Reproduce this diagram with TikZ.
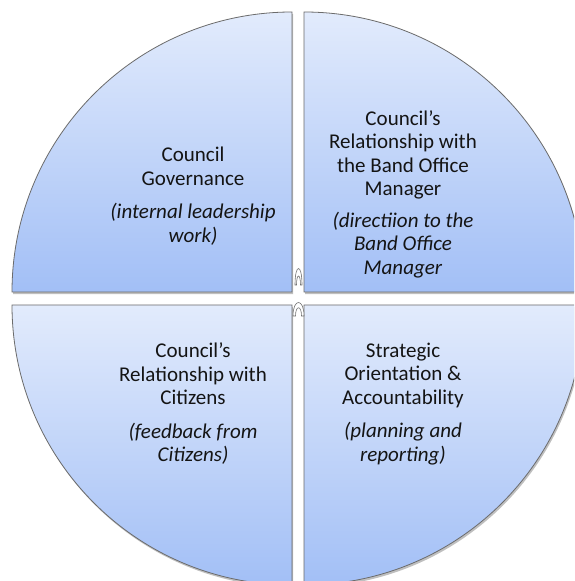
\documentclass[tikz,border=0pt]{standalone}
\usepackage{fontspec}
\setmainfont{Carlito}
\usetikzlibrary{shadows}
\begin{document}
\begin{tikzpicture}[x=1pt,y=1pt,
  quadrant/.style={draw=black!58, line width=0.8pt,
    top color=quadtop, bottom color=quadbottom,
    drop shadow={shadow xshift=1.2pt, shadow yshift=-2.2pt, fill=black!55, opacity=0.45}},
  label/.style={align=center, text=black!92, inner sep=0pt,
    font=\fontsize{21}{23.5}\selectfont},
  clipmark/.style={draw=black!55, line width=0.6pt, fill=white}]
\definecolor{quadtop}{HTML}{E2EBFC}
\definecolor{quadbottom}{HTML}{A2BFF6}
\useasboundingbox (0,0) rectangle (574,581);
\clip (0,0) rectangle (574,581);
\fill[white] (0,0) rectangle (574,581);

% four quarter-circle segments, radius 280
\path[quadrant] (292,289) -- ++(-280,0) arc[start angle=180, end angle=90, radius=280] -- cycle;
\path[quadrant] (304,289) -- ++(0,280) arc[start angle=90, end angle=0, radius=280] -- cycle;
\path[quadrant] (292,276) -- ++(0,-280) arc[start angle=270, end angle=180, radius=280] -- cycle;
\path[quadrant] (304,276) -- ++(280,0) arc[start angle=0, end angle=-90, radius=280] -- cycle;

% small clip marks in the gap
\path[clipmark] (295,296) .. controls (295,318) and (302,318) .. (302,296) -- (300.5,296)
  .. controls (300.5,308) and (296.5,308) .. (296.5,296) -- cycle;
\path[clipmark] (293,265) .. controls (293,283) and (304,283) .. (304,265) -- (301.5,265)
  .. controls (301.5,276) and (295.5,276) .. (295.5,265) -- cycle;

% segment labels
\node[label] (gov) at (193,385) {Council\\Governance\\[10pt]\textit{(internal leadership}\\\textit{work)}};
\node[label] (mgr) at (403,387) {Council’s\\Relationship with\\the Band Office\\Manager\\[8pt]\textit{(directiion to the}\\\textit{Band Office}\\\textit{Manager}};
\node[label] (cit) at (193,177) {Council’s\\Relationship with\\Citizens\\[10pt]\textit{(feedback from}\\\textit{Citizens)}};
\node[label] (str) at (403,177) {Strategic\\Orientation \&\\Accountability\\[10pt]\textit{(planning and}\\\textit{reporting)}};
\end{tikzpicture}
\end{document}
